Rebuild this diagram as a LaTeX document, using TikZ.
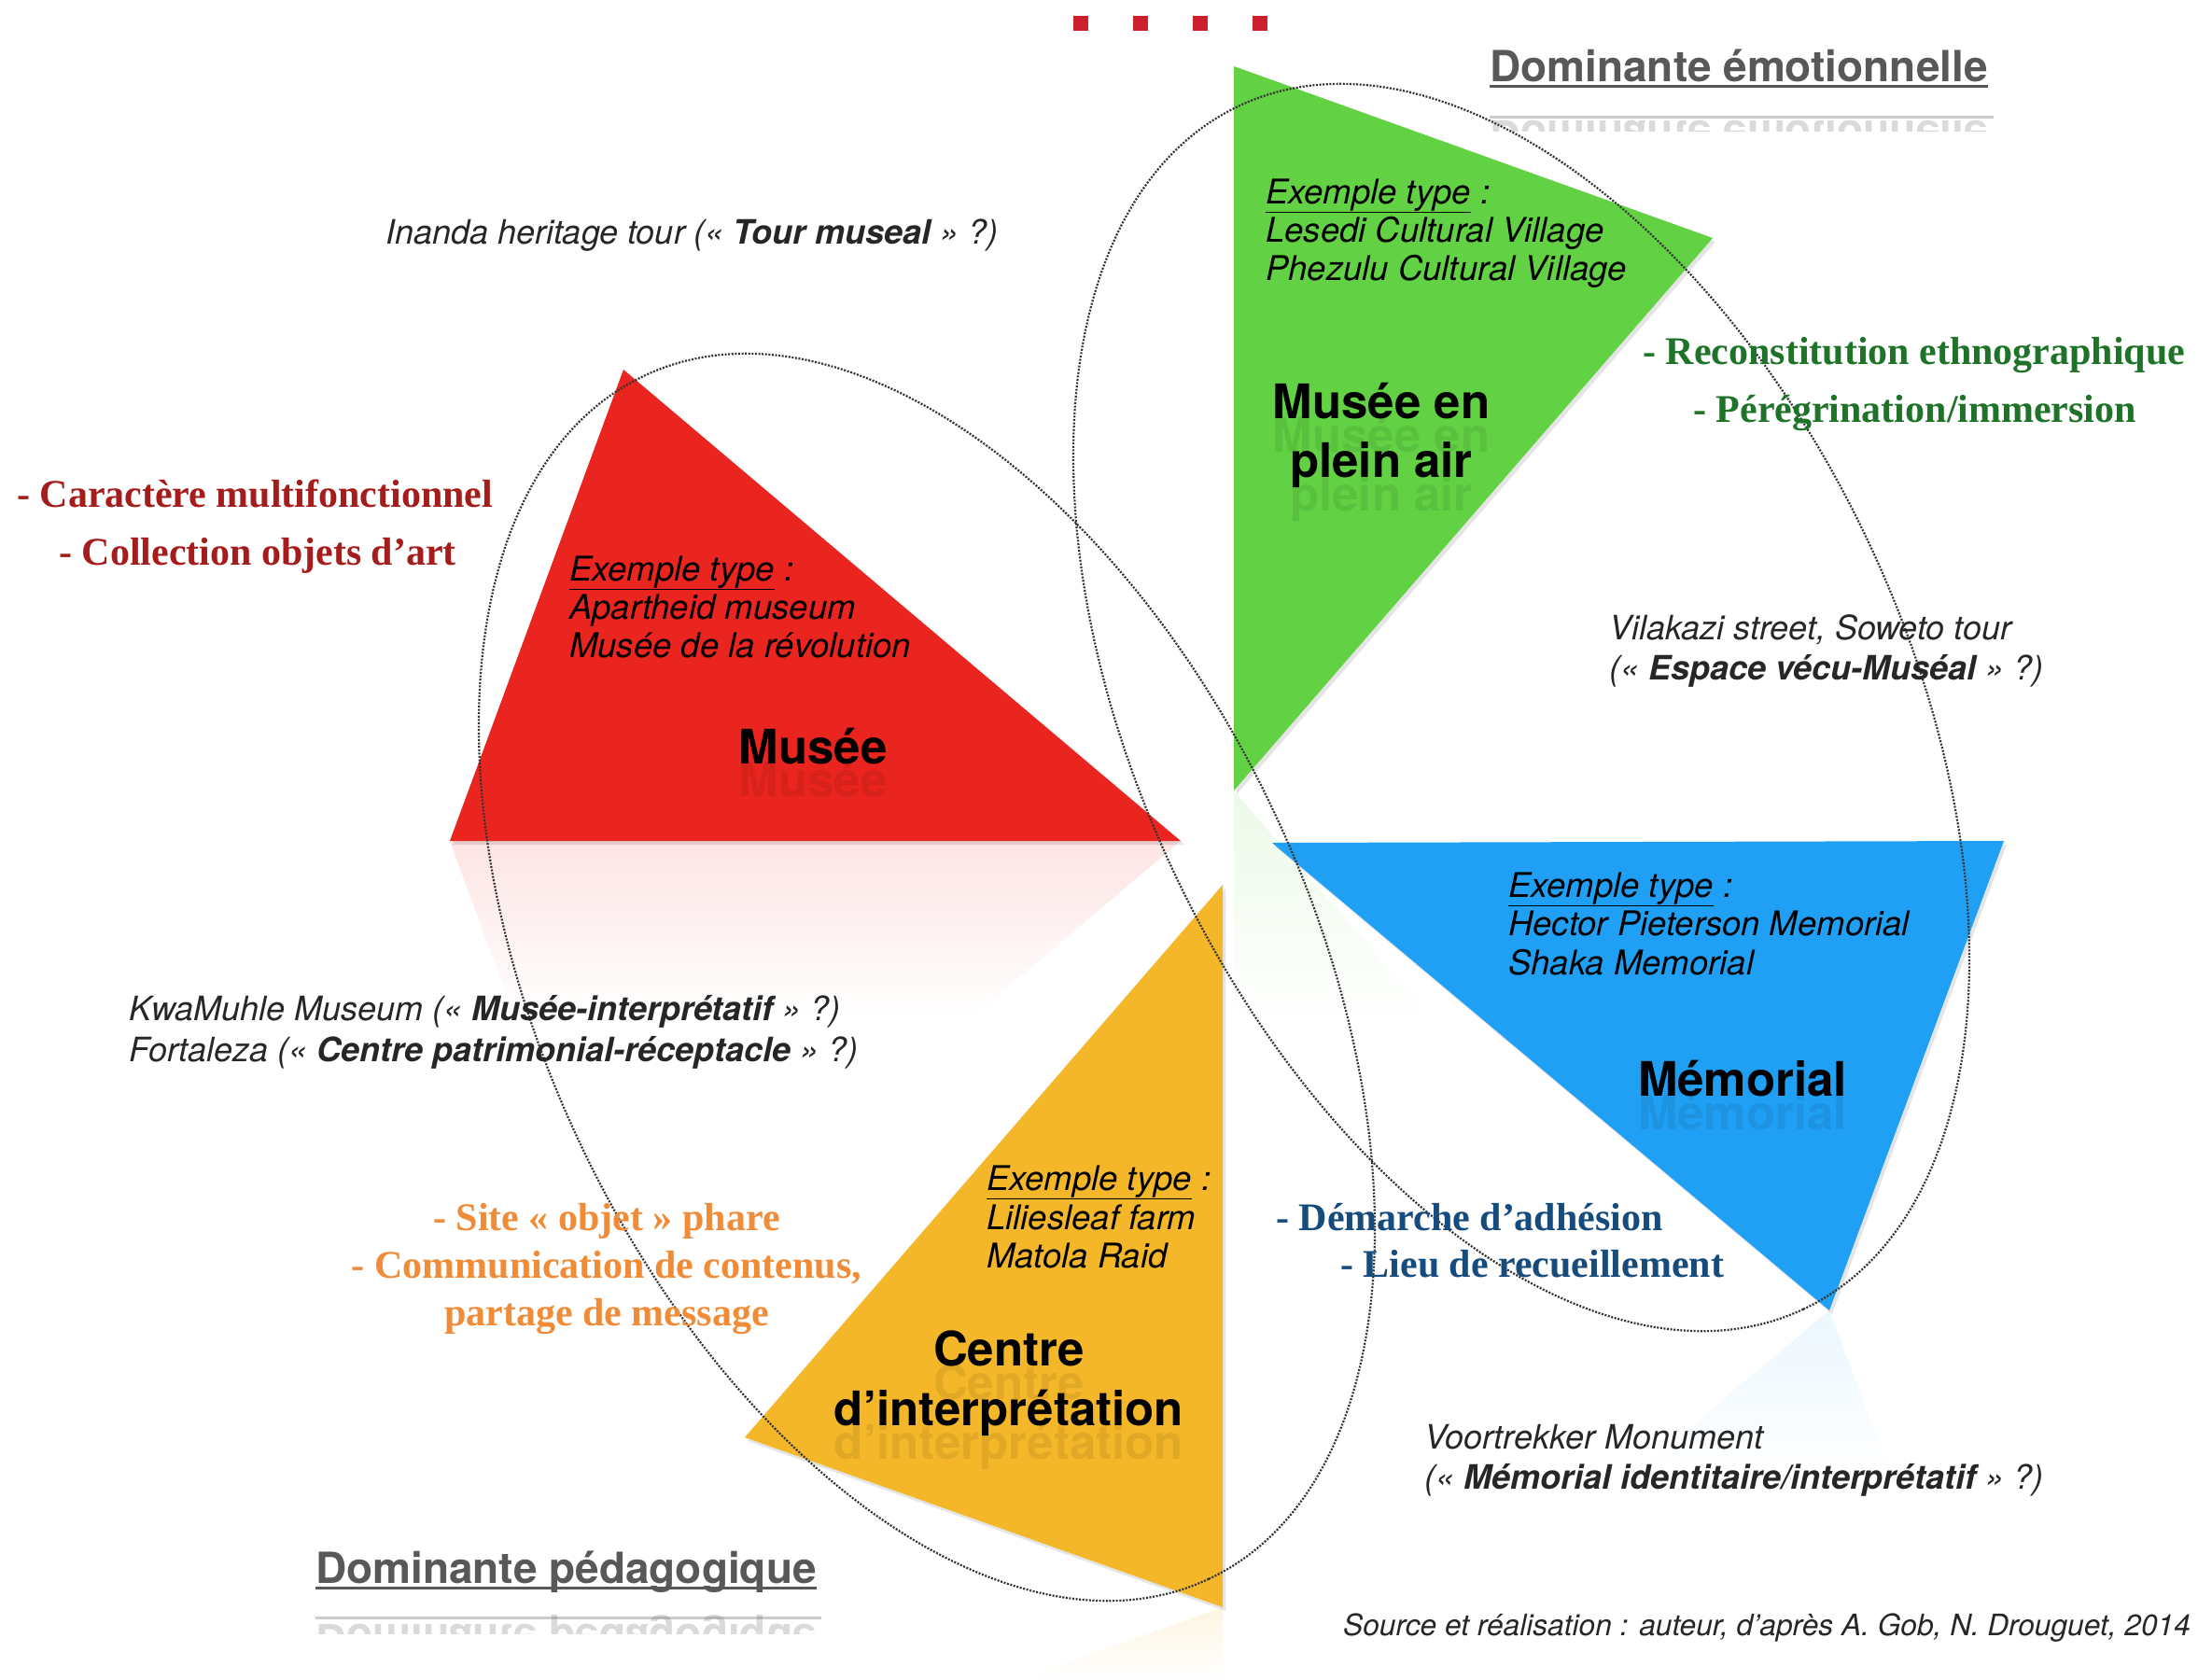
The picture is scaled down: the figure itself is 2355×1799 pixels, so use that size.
\documentclass[tikz,border=0pt]{standalone}
\usepackage{fontspec}
\setmainfont{TeX Gyre Heros}
\newfontfamily\serifbold{Liberation Serif}
\definecolor{cRed}{RGB}{234,36,30}
\definecolor{cGreen}{RGB}{98,210,68}
\definecolor{cBlue}{RGB}{32,160,245}
\definecolor{cYellow}{RGB}{245,183,42}
\definecolor{tRed}{RGB}{165,28,28}
\definecolor{tGreen}{RGB}{30,115,40}
\definecolor{tBlue}{RGB}{22,75,125}
\definecolor{tOrange}{RGB}{240,140,55}
\definecolor{domgray}{RGB}{88,88,88}
\definecolor{dotRed}{RGB}{204,32,45}
\tikzset{
  ell/.style={draw=black!80, line width=2.2pt, dash pattern=on 2pt off 1.6pt},
  extxt/.style={font=\fontsize{36.5}{42}\selectfont\itshape, anchor=base west, inner sep=0pt, text=black},
  note/.style={font=\fontsize{36}{42}\selectfont\itshape, anchor=base west, inner sep=0pt, text=black!85},
  ttl/.style={font=\fontsize{51}{60}\selectfont\bfseries, anchor=base, inner sep=0pt, text=black},
  ghost/.style={ttl, text=black, opacity=0.08},
  bullet/.style={font=\serifbold\fontsize{42}{50}\selectfont\bfseries, anchor=base west, inner sep=0pt},
  dom/.style={font=\fontsize{46}{54}\selectfont\bfseries, anchor=base west, inner sep=0pt, text=domgray},
  src/.style={font=\fontsize{31.7}{38}\selectfont\itshape, anchor=base west, inner sep=0pt, text=black!85},
}
\begin{document}
\begin{tikzpicture}[x=1pt,y=-1pt]
\fill[white] (0,0) rectangle (2355,1799);
\useasboundingbox (0,0) rectangle (2355,1799);

% red squares at top
\foreach \xx in {1150,1214,1278,1342} \fill[dotRed] (\xx,17) rectangle ++(16,16);

% reflections
\begin{scope}
  \clip (482,901) -- (1265,901) -- (668,1406) -- cycle;
  \shade[top color=cRed!12, bottom color=white] (470,901) rectangle (1280,1090);
\end{scope}
\begin{scope}
  \clip (1322,847) -- (1835,1439) -- (1322,1623) -- cycle;
  \shade[top color=cGreen!12, bottom color=white] (1315,847) rectangle (1840,1100);
\end{scope}
\begin{scope}
  \clip (1960,1404) -- (2147,1905) -- (1363,1905) -- cycle;
  \shade[top color=cBlue!9, bottom color=white] (1350,1404) rectangle (2160,1580);
\end{scope}
\begin{scope}
  \clip (1310,1722) -- (798,1904) -- (1310,2496) -- cycle;
  \shade[top color=cYellow!14, bottom color=white] (790,1722) rectangle (1320,1799);
\end{scope}

% soft shadows
\fill[black, opacity=0.10] (671,400) -- (1269,905) -- (485,905) -- cycle;
\fill[black, opacity=0.10] (1325,75) -- (1838,259) -- (1325,851) -- cycle;
\fill[black, opacity=0.10] (1366,907) -- (2150,905) -- (1963,1408) -- cycle;
\fill[black, opacity=0.10] (1313,952) -- (801,1544) -- (1313,1726) -- cycle;

% triangles
\fill[cRed] (668,396) -- (1265,901) -- (482,901) -- cycle;
\fill[cGreen] (1322,71) -- (1835,255) -- (1322,847) -- cycle;
\fill[cBlue] (1363,903) -- (2147,901) -- (1960,1404) -- cycle;
\fill[cYellow] (1310,948) -- (798,1540) -- (1310,1722) -- cycle;

% ellipses
\draw[ell, rotate around={-64.9:(993,1047)}] (993,1047) ellipse [x radius=712pt, y radius=412pt];
\draw[ell, rotate around={-64.9:(1630,758)}] (1630,758) ellipse [x radius=712pt, y radius=412pt];

% title ghosts (faint reflections)
\node[ghost] (g1) at (871,853) {Musée};
\node[ghost] (g2a) at (1480,484) {Musée en};
\node[ghost] (g2b) at (1480,547) {plein air};
\node[ghost] (g3) at (1867,1210) {Mémorial};
\node[ghost] (g4a) at (1081,1499) {Centre};
\node[ghost] (g4b) at (1081,1563) {d’interprétation};

% Dominante labels
\node[dom] (domE) at (1596,87) {Dominante émotionnelle};
\draw[domgray, line width=3pt] ([yshift=-5pt]domE.base west) -- ([yshift=-5pt]domE.base east);
\begin{scope}
  \clip (1590,120) rectangle (2140,140);
  \node[dom, yscale=-1, opacity=0.22] (domEr) at (1596,129) {Dominante émotionnelle};
  \draw[domgray, line width=3pt, opacity=0.3] (1596,125) -- (2136,125);
\end{scope}
\node[dom] (domP) at (338,1696) {Dominante pédagogique};
\draw[domgray, line width=3pt] ([yshift=-5pt]domP.base west) -- ([yshift=-5pt]domP.base east);
\begin{scope}
  \clip (330,1728) rectangle (890,1750);
  \node[dom, yscale=-1, opacity=0.22] (domPr) at (338,1740) {Dominante pédagogique};
  \draw[domgray, line width=3pt, opacity=0.3] (338,1733) -- (880,1733);
\end{scope}

% notes
\node[note] (inanda) at (413,261) {Inanda heritage tour (« \textbf{Tour museal} » ?)};
\node[note] (vil1) at (1724,685) {Vilakazi street, Soweto tour};
\node[note] (vil2) at (1724,728) {(« \textbf{Espace vécu-Muséal} » ?)};
\node[note] (kwa) at (138,1093) {KwaMuhle Museum (« \textbf{Musée-interprétatif} » ?)};
\node[note] (fort) at (138,1137) {Fortaleza (« \textbf{Centre patrimonial-réceptacle} » ?)};
\node[note] (voo1) at (1526,1552) {Voortrekker Monument};
\node[note] (voo2) at (1526,1595) {(« \textbf{Mémorial identitaire/interprétatif} » ?)};
\node[src] (source) at (1439,1752) {Source et réalisation : auteur, d’après A. Gob, N. Drouguet, 2014};

% green triangle texts
\node[extxt] (gex) at (1356,218) {\underline{Exemple type} :};
\node[extxt] (gex1) at (1356,259) {Lesedi Cultural Village};
\node[extxt] (gex2) at (1356,300) {Phezulu Cultural Village};
\node[ttl] (gt1) at (1480,448) {Musée en};
\node[ttl] (gt2) at (1480,511) {plein air};

% red triangle texts
\node[extxt] (rex) at (610,622) {\underline{Exemple type} :};
\node[extxt] (rex1) at (610,663) {Apartheid museum};
\node[extxt] (rex2) at (610,704) {Musée de la révolution};
\node[ttl] (rt) at (871,818) {Musée};

% blue triangle texts
\node[extxt] (bex) at (1616,961) {\underline{Exemple type} :};
\node[extxt] (bex1) at (1616,1002) {Hector Pieterson Memorial};
\node[extxt] (bex2) at (1616,1044) {Shaka Memorial};
\node[ttl] (bt) at (1867,1174) {Mémorial};

% yellow triangle texts
\node[extxt] (yex) at (1057,1275) {\underline{Exemple type} :};
\node[extxt] (yex1) at (1057,1317) {Liliesleaf farm};
\node[extxt] (yex2) at (1057,1358) {Matola Raid};
\node[ttl] (yt1) at (1081,1463) {Centre};
\node[ttl] (yt2) at (1081,1527) {d’interprétation};

% coloured bullet texts
\node[bullet, text=tGreen] (gb1) at (1760,390) {- Reconstitution ethnographique};
\node[bullet, text=tGreen] (gb2) at (1814,452) {- Pérégrination/immersion};
\node[bullet, text=tRed] (rb1) at (18,543) {- Caractère multifonctionnel};
\node[bullet, text=tRed] (rb2) at (63,605) {- Collection objets d’art};
\node[bullet, text=tOrange, anchor=base] (ob1) at (650,1318) {- Site « objet » phare};
\node[bullet, text=tOrange, anchor=base] (ob2) at (650,1369) {- Communication de contenus,};
\node[bullet, text=tOrange, anchor=base] (ob3) at (650,1420) {partage de message};
\node[bullet, text=tBlue] (bb1) at (1367,1318) {- Démarche d’adhésion};
\node[bullet, text=tBlue] (bb2) at (1436,1368) {- Lieu de recueillement};
\end{tikzpicture}
\end{document}
